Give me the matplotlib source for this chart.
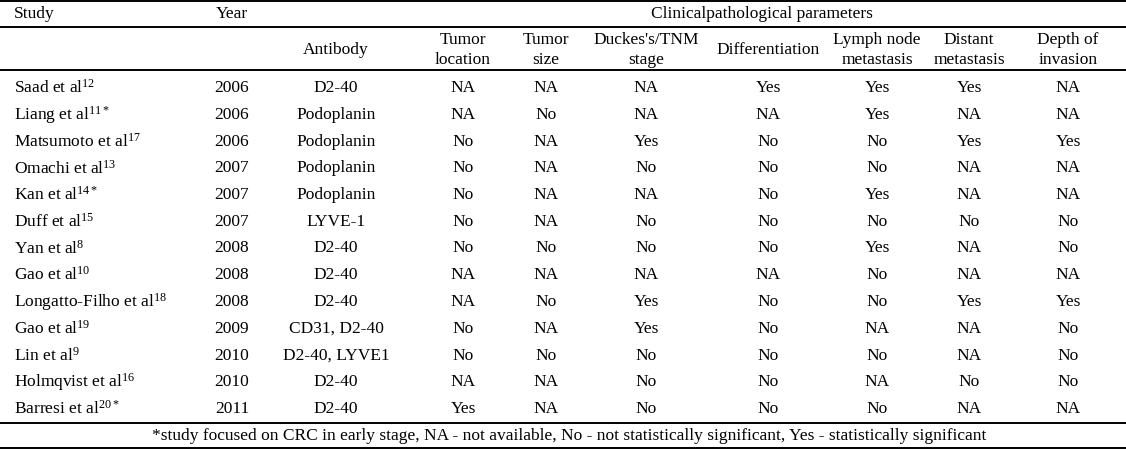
import matplotlib
matplotlib.use("Agg")
import matplotlib.pyplot as plt

plt.rcParams['font.family'] = ['Liberation Serif', 'DejaVu Serif']
plt.rcParams['mathtext.fontset'] = 'custom'
plt.rcParams['mathtext.rm'] = 'Liberation Serif'
plt.rcParams['mathtext.it'] = 'Liberation Serif'

studies = ["Saad et al$^{12}$", "Liang et al$^{11*}$", "Matsumoto et al$^{17}$",
           "Omachi et al$^{13}$", "Kan et al$^{14*}$", "Duff et al$^{15}$",
           "Yan et al$^{8}$", "Gao et al$^{10}$", "Longatto-Filho et al$^{18}$",
           "Gao et al$^{19}$", "Lin et al$^{9}$", "Holmqvist et al$^{16}$",
           "Barresi et al$^{20*}$"]
years = ["2006", "2006", "2006", "2007", "2007", "2007", "2008", "2008",
         "2008", "2009", "2010", "2010", "2011"]
antibodies = ["D2-40", "Podoplanin", "Podoplanin", "Podoplanin", "Podoplanin",
              "LYVE-1", "D2-40", "D2-40", "D2-40", "CD31, D2-40", "D2-40, LYVE1",
              "D2-40", "D2-40"]
tumor_location = ["NA", "NA", "No", "No", "No", "No", "No", "NA", "NA", "No", "No", "NA", "Yes"]
tumor_size = ["NA", "No", "NA", "NA", "NA", "NA", "No", "NA", "No", "NA", "No", "NA", "NA"]
stage = ["NA", "NA", "Yes", "No", "NA", "No", "No", "NA", "Yes", "Yes", "No", "No", "No"]
differentiation = ["Yes", "NA", "No", "No", "No", "No", "No", "NA", "No", "No", "No", "No", "No"]
lymph_node = ["Yes", "Yes", "No", "No", "Yes", "No", "Yes", "No", "No", "NA", "No", "NA", "No"]
distant = ["Yes", "NA", "Yes", "NA", "NA", "No", "NA", "NA", "Yes", "NA", "NA", "No", "NA"]
depth = ["NA", "NA", "Yes", "NA", "NA", "No", "No", "NA", "Yes", "No", "No", "No", "NA"]

param_headers = ["Tumor\nlocation", "Tumor\nsize", "Duckes's/TNM\nstage", "Differentiation",
                 "Lymph node\nmetastasis", "Distant\nmetastasis", "Depth of\ninvasion"]
footnote = ("*study focused on CRC in early stage, NA - not available, "
            "No - not statistically significant, Yes - statistically significant")

W, H = 1126, 450
fig = plt.figure(figsize=(W / 100, H / 100), dpi=100)
ax = fig.add_axes([0, 0, 1, 1])
ax.set_xlim(0, W)
ax.set_ylim(H, 0)
ax.axis("off")

fs = 12.5
col_x = [232, 336, 463, 546, 646, 768, 877, 969, 1068]

# horizontal rules
for y in [1, 27, 70, 423, 448]:
    ax.plot([0, W], [y, y], color="black", lw=1.4)

# header
ax.text(14, 14, "Study", fontsize=fs, ha="left", va="center")
ax.text(col_x[0], 14, "Year", fontsize=fs, ha="center", va="center")
ax.text(762, 14, "Clinicalpathological parameters", fontsize=fs, ha="center", va="center")
ax.text(col_x[1], 50, "Antibody", fontsize=fs, ha="center", va="center")
for x, h in zip(col_x[2:], param_headers):
    ax.text(x, 50, h, fontsize=fs, ha="center", va="center", linespacing=1.25)

columns = [years, antibodies, tumor_location, tumor_size, stage,
           differentiation, lymph_node, distant, depth]
y0, dy = 88, 26.75
for i, s in enumerate(studies):
    y = y0 + i * dy
    ax.text(14, y, s, fontsize=fs, ha="left", va="center")
    for x, col in zip(col_x, columns):
        ax.text(x, y, col[i], fontsize=fs, ha="center", va="center")

ax.text(W / 2 + 6, 436, footnote, fontsize=fs, ha="center", va="center")

fig.savefig("out.png", dpi=100)
